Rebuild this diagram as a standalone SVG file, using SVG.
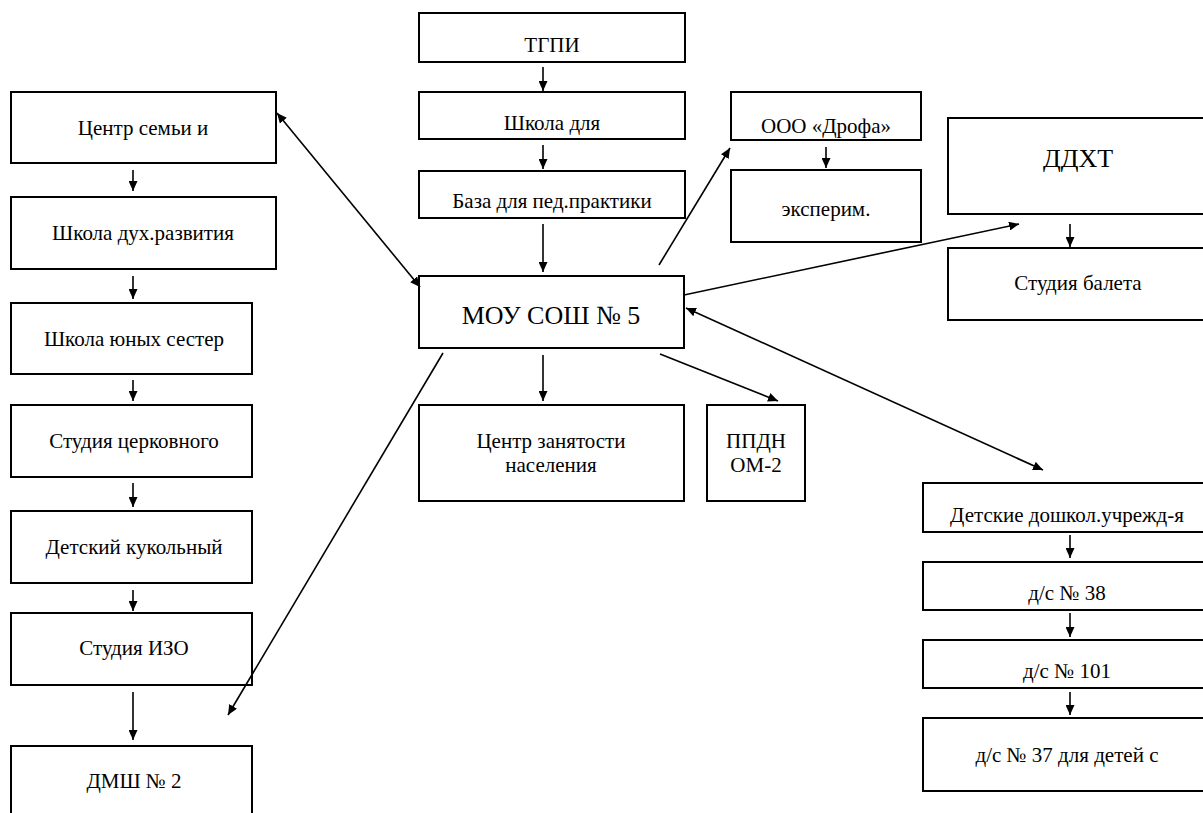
<svg xmlns="http://www.w3.org/2000/svg" width="1203" height="813" viewBox="0 0 1203 813">
<style>
rect{fill:#fff;stroke:#000;stroke-width:2}
.t text{fill:#000;text-anchor:middle}
.big{font-size:26px}
.c line{stroke:#000;stroke-width:1.6;marker-end:url(#ah)}
.c line.bi{marker-start:url(#ah)}
</style>
<defs>
<marker id="ah" markerUnits="userSpaceOnUse" markerWidth="11" markerHeight="9" refX="10" refY="4.5" orient="auto-start-reverse">
<path d="M0,0 L10,4.5 L0,9 z" fill="#000"/>
</marker>
</defs>
<rect x="0" y="0" width="1203" height="813" style="stroke:none"/>
<g class="t" font-family="Liberation Serif, DejaVu Serif, Times New Roman, serif" font-size="21">
<g id="tgpi"><rect x="419" y="13" width="266" height="49"/><text x="552" y="52">ТГПИ</text></g>
<g id="shkola"><rect x="419" y="92" width="266" height="47"/><text x="552" y="130">Школа для</text></g>
<g id="baza"><rect x="419" y="171" width="266" height="47"/><text x="552" y="208">База для пед.практики</text></g>
<g id="mou"><rect x="419" y="276" width="265" height="72"/><text class="big" x="551" y="324">МОУ СОШ № 5</text></g>
<g id="czn"><rect x="419" y="405" width="265" height="96"/><text x="551" y="448">Центр занятости</text><text x="551" y="472">населения</text></g>
<g id="ppdn"><rect x="707" y="405" width="98" height="96"/><text x="756" y="448">ППДН</text><text x="756" y="472">ОМ-2</text></g>
<g id="drofa"><rect x="731" y="92" width="190" height="48"/><text x="826" y="133">ООО «Дрофа»</text></g>
<g id="eksperim"><rect x="731" y="170" width="190" height="72"/><text x="826" y="216">эксперим.</text></g>
<g id="ddht"><rect x="948" y="118" width="264" height="96"/><text class="big" x="1078" y="167">ДДХТ</text></g>
<g id="balet"><rect x="948" y="248" width="264" height="72"/><text x="1078" y="290">Студия балета</text></g>
<g id="dou"><rect x="923" y="483" width="289" height="49"/><text x="1067" y="522">Детские дошкол.учрежд-я</text></g>
<g id="ds38"><rect x="923" y="562" width="289" height="48"/><text x="1067" y="600">д/с № 38</text></g>
<g id="ds101"><rect x="923" y="640" width="289" height="48"/><text x="1067" y="678">д/с № 101</text></g>
<g id="ds37"><rect x="923" y="718" width="289" height="73"/><text x="1067" y="762">д/с № 37 для детей с</text></g>
<g id="csemi"><rect x="11" y="92" width="265" height="71"/><text x="143" y="135">Центр семьи и</text></g>
<g id="shdukh"><rect x="11" y="197" width="265" height="72"/><text x="143" y="240">Школа дух.развития</text></g>
<g id="shsester"><rect x="11" y="303" width="241" height="71"/><text x="134" y="346">Школа юных сестер</text></g>
<g id="sttserk"><rect x="11" y="405" width="241" height="72"/><text x="134" y="448">Студия церковного</text></g>
<g id="kukol"><rect x="11" y="511" width="241" height="72"/><text x="134" y="554">Детский кукольный</text></g>
<g id="izo"><rect x="11" y="613" width="241" height="72"/><text x="134" y="655">Студия ИЗО</text></g>
<g id="dmsh"><rect x="11" y="746" width="241" height="80"/><text x="134" y="788">ДМШ № 2</text></g>
</g>
<g class="c" id="connectors">
<line x1="543" y1="67" x2="543" y2="91"/>
<line x1="543" y1="145" x2="543" y2="169"/>
<line x1="543" y1="224" x2="543" y2="272"/>
<line x1="543" y1="355" x2="543" y2="401"/>
<line x1="133" y1="170" x2="133" y2="191"/>
<line x1="133" y1="276" x2="133" y2="299"/>
<line x1="133" y1="380" x2="133" y2="401"/>
<line x1="133" y1="483" x2="133" y2="507"/>
<line x1="133" y1="590" x2="133" y2="611"/>
<line x1="133" y1="692" x2="133" y2="740"/>
<line x1="826" y1="147" x2="826" y2="168"/>
<line x1="1070" y1="224" x2="1070" y2="247"/>
<line x1="1070" y1="535" x2="1070" y2="558"/>
<line x1="1070" y1="613" x2="1070" y2="637"/>
<line x1="1070" y1="692" x2="1070" y2="715"/>
<line class="bi" x1="277" y1="113" x2="420" y2="287"/>
<line x1="443" y1="353" x2="228" y2="715"/>
<line x1="659" y1="265" x2="730" y2="148"/>
<line x1="684" y1="295" x2="1019" y2="224"/>
<line class="bi" x1="686" y1="308" x2="1043" y2="470"/>
<line x1="660" y1="354" x2="778" y2="401"/>
</g>
</svg>
